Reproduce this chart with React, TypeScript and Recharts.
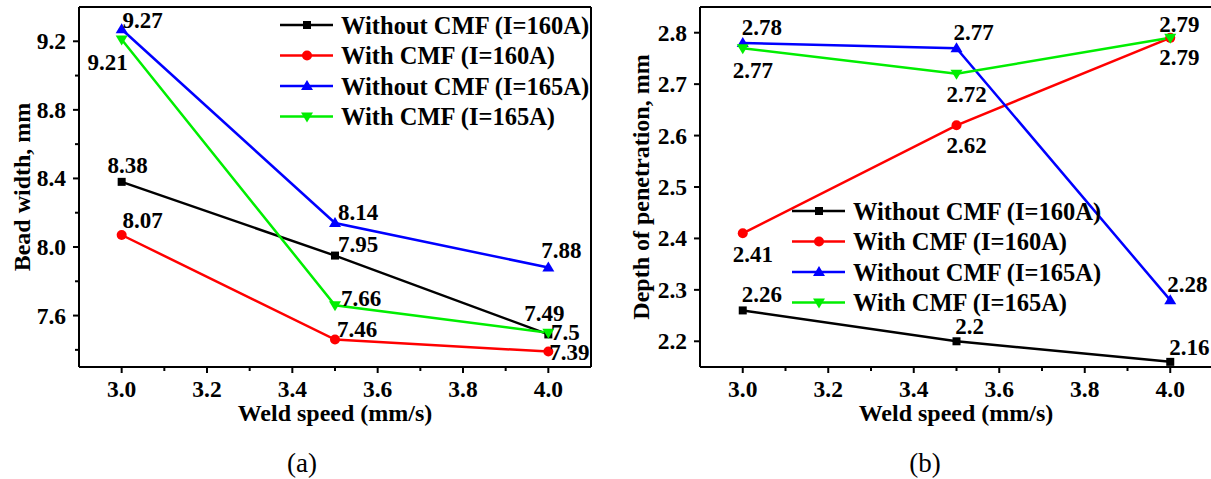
import { LineChart, Line, XAxis, YAxis, Legend, LabelList, ReferenceLine } from "recharts";

// weld speed, mm/s
const speeds = [3.0, 3.5, 4.0];

// (a) bead width, mm
const bwWithout160 = [8.38, 7.95, 7.49];
const bwWith160 = [8.07, 7.46, 7.39];
const bwWithout165 = [9.27, 8.14, 7.88];
const bwWith165 = [9.21, 7.66, 7.5];

// (b) depth of penetration, mm
const dpWithout160 = [2.26, 2.2, 2.16];
const dpWith160 = [2.41, 2.62, 2.79];
const dpWithout165 = [2.78, 2.77, 2.28];
const dpWith165 = [2.77, 2.72, 2.79];

const seriesNames = [
  "Without CMF (I=160A)",
  "With CMF (I=160A)",
  "Without CMF (I=165A)",
  "With CMF (I=165A)",
];

const xTicks = [2.9, 3.0, 3.1, 3.2, 3.3, 3.4, 3.5, 3.6, 3.7, 3.8, 3.9, 4.0, 4.1];
const bwTicks = [7.4, 7.6, 7.8, 8.0, 8.2, 8.4, 8.6, 8.8, 9.0, 9.2];
const bwMajor = [7.6, 8.0, 8.4, 8.8, 9.2];
const dpTicks = [2.2, 2.3, 2.4, 2.5, 2.6, 2.7, 2.8];

const colors = ["#000000", "#ff0000", "#0000ff", "#00ee00"];
const shapes = ["square", "circle", "up", "down"];
const FONT = "'Liberation Serif', 'Times New Roman', serif";

const bwData = speeds.map((s, i) => ({
  speed: s,
  s0: bwWithout160[i],
  s1: bwWith160[i],
  s2: bwWithout165[i],
  s3: bwWith165[i],
}));
const dpData = speeds.map((s, i) => ({
  speed: s,
  s0: dpWithout160[i],
  s1: dpWith160[i],
  s2: dpWithout165[i],
  s3: dpWith165[i],
}));

// label offsets (dx, dy of text centre from the point)
const bwOffsets = [
  [[6, -16], [23, -11], [-4, -21]],
  [[21, -15], [22, -10], [21, 1]],
  [[21, -9], [23, -11], [13, -17]],
  [[-14, 23], [26, -7], [17, 0]],
];
const dpOffsets = [
  [[19, -16], [13, -15], [19, -14]],
  [[10, 21], [10, 20], [9, 20]],
  [[19, -16], [17, -16], [17, -16]],
  [[10, 22], [10, 21], [9, -13]],
];

function marker(shape: string, cx: number, cy: number, color: string, key?: any) {
  if (shape === "square")
    return <rect key={key} x={cx - 4} y={cy - 4} width={8} height={8} fill={color} />;
  if (shape === "circle") return <circle key={key} cx={cx} cy={cy} r={5} fill={color} />;
  if (shape === "up")
    return (
      <polygon key={key} points={`${cx},${cy - 6} ${cx - 6},${cy + 4} ${cx + 6},${cy + 4}`} fill={color} />
    );
  return (
    <polygon key={key} points={`${cx},${cy + 6} ${cx - 6},${cy - 4} ${cx + 6},${cy - 4}`} fill={color} />
  );
}

const makeDot = (idx: number) => (p: any) =>
  p.cx == null ? <g key={p.index} /> : marker(shapes[idx], p.cx, p.cy, colors[idx], `d${idx}-${p.index}`);

const makeLabel = (offs: number[][]) => (p: any) => {
  const o = offs[p.index] || [0, -14];
  return (
    <text
      key={p.index}
      x={p.x + o[0]}
      y={p.y + o[1]}
      textAnchor="middle"
      dominantBaseline="central"
      fontFamily={FONT}
      fontWeight="bold"
      fontSize={23}
      fill="#000"
    >
      {p.value}
    </text>
  );
};

const TICK_MARGIN = 12;

const XTick = (p: any) => {
  const v = p.payload.value;
  const major = Math.abs(Math.round(v * 5) - v * 5) < 1e-6;
  const top = p.y - TICK_MARGIN;
  const show = major && v > 2.95 && v < 4.05;
  return (
    <g>
      {v > 2.95 && v < 4.05 && (
        <line x1={p.x} x2={p.x} y1={top} y2={top + (major ? 6 : 4)} stroke="#000" strokeWidth={2} />
      )}
      {show && (
        <text x={p.x} y={top + 22} textAnchor="middle" dominantBaseline="central" fontFamily={FONT} fontWeight="bold" fontSize={23.5} fill="#000">
          {v.toFixed(1)}
        </text>
      )}
    </g>
  );
};

const makeYTick = (majors: number[] | null) => (p: any) => {
  const v = p.payload.value;
  const major = majors ? majors.some((m) => Math.abs(m - v) < 1e-6) : true;
  const ax = p.x + TICK_MARGIN;
  return (
    <g>
      <line x1={ax} x2={ax - (major ? 6 : 4)} y1={p.y} y2={p.y} stroke="#000" strokeWidth={2} />
      {major && (
        <text x={ax - 13} y={p.y} textAnchor="end" dominantBaseline="central" fontFamily={FONT} fontWeight="bold" fontSize={23.5} fill="#000">
          {v.toFixed(1)}
        </text>
      )}
    </g>
  );
};

// legend drawn in the series order of the figure
const LegendBox = () => (
  <svg width={340} height={124} style={{ display: "block" }}>
    {seriesNames.map((n, idx) => {
      const cy = 15 + idx * 30.5;
      return (
        <g key={n}>
          <line x1={0} x2={53} y1={cy} y2={cy} stroke={colors[idx]} strokeWidth={2.5} />
          {marker(shapes[idx], 27, cy, colors[idx])}
          <text x={61} y={cy} dominantBaseline="central" fontFamily={FONT} fontWeight="bold" fontSize={24.5} fill="#000">
            {n}
          </text>
        </g>
      );
    })}
  </svg>
);

function Panel({
  data,
  domain,
  ticks,
  majors,
  offsets,
  legendPos,
  width,
  right,
  yWidth,
}: {
  data: any[];
  domain: number[];
  ticks: number[];
  majors: number[] | null;
  offsets: number[][][];
  legendPos: { left: number; top: number };
  width: number;
  right: number;
  yWidth: number;
}) {
  return (
    <LineChart width={width} height={479} data={data} margin={{ top: 7, right, left: 0, bottom: 52 }}>
      <XAxis
        dataKey="speed"
        type="number"
        domain={[2.9, 4.1]}
        ticks={xTicks}
        allowDataOverflow
        height={60}
        tickSize={0}
        tickMargin={TICK_MARGIN}
        tickLine={false}
        tick={XTick}
        axisLine={{ stroke: "#000", strokeWidth: 2 }}
        interval={0}
      />
      <YAxis
        type="number"
        domain={domain}
        ticks={ticks}
        allowDataOverflow
        width={yWidth}
        tickSize={0}
        tickMargin={TICK_MARGIN}
        tickLine={false}
        tick={makeYTick(majors)}
        axisLine={{ stroke: "#000", strokeWidth: 2 }}
        interval={0}
      />
      <ReferenceLine y={domain[1]} stroke="#000" strokeWidth={2} />
      <ReferenceLine x={4.1} stroke="#000" strokeWidth={2} />
      {seriesNames.map((n, i) => (
        <Line
          key={n}
          dataKey={`s${i}`}
          name={n}
          stroke={colors[i]}
          strokeWidth={2.5}
          dot={makeDot(i)}
          activeDot={false}
          isAnimationActive={false}
        >
          <LabelList dataKey={`s${i}`} content={makeLabel(offsets[i])} />
        </Line>
      ))}
      <Legend
        layout="vertical"
        align="center"
        verticalAlign="middle"
        content={LegendBox}
        wrapperStyle={{ left: legendPos.left, top: legendPos.top, width: 340 }}
      />
    </LineChart>
  );
}

export default function App() {
  const txt = { fontFamily: FONT, fill: "#000" } as any;
  return (
    <div
      style={{
        position: "absolute",
        left: 0,
        top: 0,
        width: 1211,
        height: 479,
        overflow: "hidden",
        background: "#fff",
      }}
    >
      <div style={{ position: "absolute", left: 0, top: 0 }}>
        <Panel
          data={bwData}
          domain={[7.3, 9.4]}
          ticks={bwTicks}
          majors={bwMajor}
          offsets={bwOffsets}
          legendPos={{ left: 280, top: 10 }}
          width={600}
          right={9}
          yWidth={79}
        />
      </div>
      <div style={{ position: "absolute", left: 600, top: 0 }}>
        <Panel
          data={dpData}
          domain={[2.15, 2.85]}
          ticks={dpTicks}
          majors={null}
          offsets={dpOffsets}
          legendPos={{ left: 192, top: 196 }}
          width={614}
          right={1}
          yWidth={100}
        />
      </div>
      <svg width={1211} height={479} style={{ position: "absolute", left: 0, top: 0, pointerEvents: "none" }}>
        <text {...txt} x={22} y={187} fontWeight="bold" fontSize={24} textAnchor="middle" dominantBaseline="central" transform="rotate(-90 22 187)">
          Bead width, mm
        </text>
        <text {...txt} x={335} y={413} fontWeight="bold" fontSize={24} textAnchor="middle" dominantBaseline="central">
          Weld speed (mm/s)
        </text>
        <text {...txt} x={641} y={187} fontWeight="bold" fontSize={24} textAnchor="middle" dominantBaseline="central" transform="rotate(-90 641 187)">
          Depth of penetration, mm
        </text>
        <text {...txt} x={956} y={413} fontWeight="bold" fontSize={24} textAnchor="middle" dominantBaseline="central">
          Weld speed (mm/s)
        </text>
        <text {...txt} x={302} y={463} fontSize={27} textAnchor="middle" dominantBaseline="central">
          (a)
        </text>
        <text {...txt} x={925} y={463} fontSize={27} textAnchor="middle" dominantBaseline="central">
          (b)
        </text>
      </svg>
    </div>
  );
}
